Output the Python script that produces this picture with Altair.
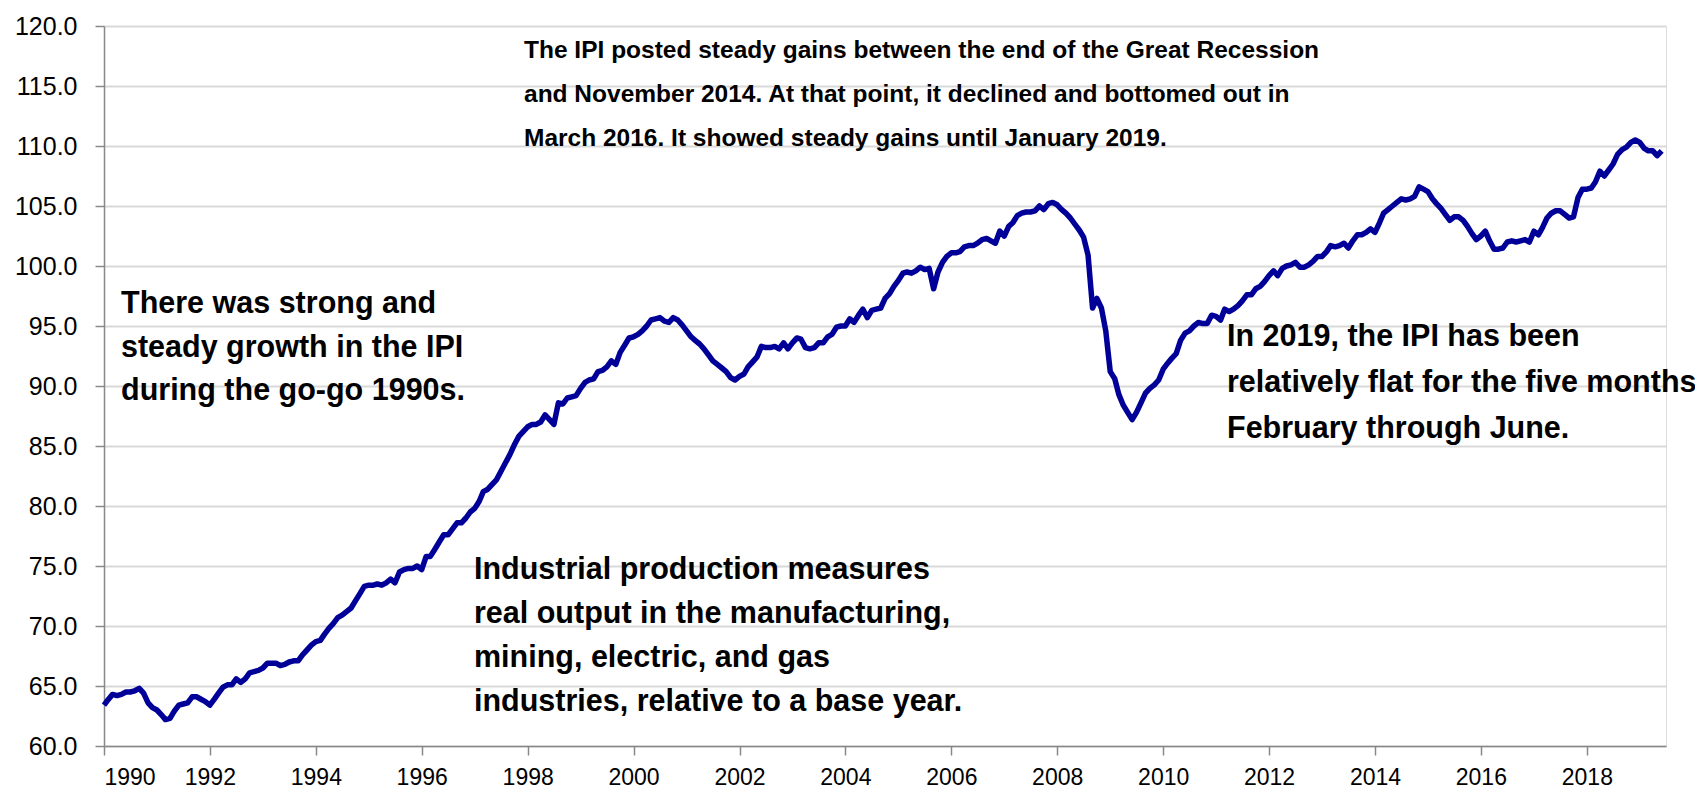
import altair as alt
import pandas as pd

# Industrial Production Index, monthly, Jan 1990 - Jun 2019
ipi_1990 = [63.4, 63.9, 64.3, 64.2, 64.3, 64.5, 64.5, 64.6, 64.8, 64.4, 63.6, 63.2]
ipi_1991 = [63.0, 62.6, 62.2, 62.3, 62.9, 63.4, 63.5, 63.6, 64.1, 64.1, 63.9, 63.7]
ipi_1992 = [63.4, 63.9, 64.4, 64.9, 65.1, 65.1, 65.6, 65.3, 65.6, 66.1, 66.2, 66.3]
ipi_1993 = [66.5, 66.9, 66.9, 66.9, 66.7, 66.8, 67.0, 67.1, 67.1, 67.6, 68.0, 68.4]
ipi_1994 = [68.7, 68.8, 69.3, 69.8, 70.2, 70.7, 70.9, 71.2, 71.5, 72.1, 72.7, 73.3]
ipi_1995 = [73.4, 73.4, 73.5, 73.4, 73.6, 73.9, 73.6, 74.5, 74.7, 74.8, 74.8, 75.0]
ipi_1996 = [74.7, 75.8, 75.8, 76.4, 77.0, 77.6, 77.6, 78.1, 78.6, 78.6, 79.0, 79.5]
ipi_1997 = [79.8, 80.4, 81.2, 81.4, 81.8, 82.2, 82.9, 83.6, 84.3, 85.1, 85.8, 86.2]
ipi_1998 = [86.6, 86.8, 86.8, 87.0, 87.6, 87.2, 86.8, 88.6, 88.5, 89.0, 89.1, 89.2]
ipi_1999 = [89.8, 90.3, 90.5, 90.6, 91.2, 91.3, 91.6, 92.1, 91.8, 92.8, 93.4, 94.0]
ipi_2000 = [94.1, 94.3, 94.6, 95.0, 95.5, 95.6, 95.7, 95.4, 95.3, 95.7, 95.5, 95.1]
ipi_2001 = [94.6, 94.1, 93.8, 93.5, 93.1, 92.6, 92.1, 91.8, 91.5, 91.2, 90.7, 90.5]
ipi_2002 = [90.8, 91.0, 91.6, 92.0, 92.4, 93.3, 93.2, 93.2, 93.3, 93.1, 93.6, 93.1]
ipi_2003 = [93.6, 94.0, 93.9, 93.2, 93.1, 93.2, 93.6, 93.6, 94.1, 94.3, 94.9, 95.0]
ipi_2004 = [95.0, 95.6, 95.3, 95.9, 96.4, 95.7, 96.3, 96.4, 96.5, 97.3, 97.7, 98.3]
ipi_2005 = [98.8, 99.4, 99.5, 99.4, 99.6, 99.9, 99.7, 99.8, 98.1, 99.5, 100.3, 100.8]
ipi_2006 = [101.1, 101.1, 101.2, 101.6, 101.7, 101.7, 101.9, 102.2, 102.3, 102.1, 101.9, 102.9]
ipi_2007 = [102.5, 103.3, 103.6, 104.2, 104.4, 104.5, 104.5, 104.6, 105.0, 104.7, 105.2, 105.3]
ipi_2008 = [105.1, 104.7, 104.4, 104.0, 103.5, 103.0, 102.4, 100.9, 96.5, 97.3, 96.5, 94.6]
ipi_2009 = [91.2, 90.6, 89.3, 88.4, 87.8, 87.2, 87.8, 88.6, 89.4, 89.8, 90.1, 90.5]
ipi_2010 = [91.4, 91.9, 92.3, 92.7, 93.8, 94.4, 94.6, 95.0, 95.3, 95.2, 95.2, 95.9]
ipi_2011 = [95.8, 95.5, 96.4, 96.2, 96.4, 96.7, 97.1, 97.6, 97.6, 98.1, 98.3, 98.7]
ipi_2012 = [99.2, 99.6, 99.2, 99.8, 100.0, 100.1, 100.3, 99.9, 99.9, 100.1, 100.4, 100.8]
ipi_2013 = [100.8, 101.2, 101.7, 101.6, 101.7, 101.9, 101.5, 102.1, 102.6, 102.6, 102.8, 103.1]
ipi_2014 = [102.8, 103.6, 104.4, 104.7, 105.0, 105.3, 105.6, 105.5, 105.6, 105.8, 106.6, 106.4]
ipi_2015 = [106.2, 105.6, 105.2, 104.8, 104.3, 103.8, 104.1, 104.1, 103.8, 103.3, 102.7, 102.2]
ipi_2016 = [102.5, 102.9, 102.1, 101.4, 101.4, 101.5, 102.0, 102.1, 102.0, 102.1, 102.2, 102.0]
ipi_2017 = [102.9, 102.6, 103.2, 104.0, 104.4, 104.6, 104.6, 104.3, 104.0, 104.1, 105.7, 106.4]
ipi_2018 = [106.4, 106.5, 107.0, 107.9, 107.5, 108.0, 108.5, 109.3, 109.7, 109.9, 110.3, 110.5]
ipi_2019 = [110.3, 109.8, 109.6, 109.6, 109.2, 109.6]

years = [ipi_1990, ipi_1991, ipi_1992, ipi_1993, ipi_1994, ipi_1995, ipi_1996,
         ipi_1997, ipi_1998, ipi_1999, ipi_2000, ipi_2001, ipi_2002, ipi_2003,
         ipi_2004, ipi_2005, ipi_2006, ipi_2007, ipi_2008, ipi_2009, ipi_2010,
         ipi_2011, ipi_2012, ipi_2013, ipi_2014, ipi_2015, ipi_2016, ipi_2017,
         ipi_2018, ipi_2019]
values = [v for yr in years for v in yr]
dates = pd.date_range("1990-01-01", periods=len(values), freq="MS")
df = pd.DataFrame({"date": dates.strftime("%Y-%m-%d"), "ipi": values})

y_ticks = [60, 65, 70, 75, 80, 85, 90, 95, 100, 105, 110, 115, 120]
x_tick_years = list(range(1990, 2019, 2))

# annotation text blocks
note_top = ["The IPI posted steady gains between the end of the Great Recession",
            "and November 2014. At that point, it declined and bottomed out in",
            "March 2016. It showed steady gains until January 2019."]
note_left = ["There was strong and",
             "steady growth in the IPI",
             "during the go-go 1990s."]
note_mid = ["Industrial production measures",
            "real output in the manufacturing,",
            "mining, electric, and gas",
            "industries, relative to a base year."]
note_right = ["In 2019, the IPI has been",
              "relatively flat for the five months",
              "February through June."]

rows = []
for lines, x0, y0, step, grp in [(note_top, 420, 25, 44, "top"),
                                 (note_left, 17, 278, 43.5, "body"),
                                 (note_mid, 370, 544, 44, "body"),
                                 (note_right, 1123, 311, 46, "body")]:
    for i, t in enumerate(lines):
        rows.append({"px": x0, "py": y0 + i * step, "txt": t, "grp": grp})
notes = pd.DataFrame(rows)

FONT = "Liberation Sans"

line = alt.Chart(df).mark_line(color="#000099", strokeWidth=5.5, strokeJoin="round").encode(
    x=alt.X("date:T",
            scale=alt.Scale(domain=[alt.DateTime(year=1990, month=1, date=1),
                                    alt.DateTime(year=2019, month=7, date=1)]),
            axis=alt.Axis(values=[alt.DateTime(year=y, month=1, date=1) for y in x_tick_years],
                          format="%Y", title=None, grid=False, labelFont=FONT,
                          labelFontSize=23, labelColor="black", labelPadding=11,
                          tickSize=9, tickColor="#888888", tickWidth=1.5,
                          domainColor="#888888", domainWidth=1.5, labelOverlap=False)),
    y=alt.Y("ipi:Q",
            scale=alt.Scale(domain=[60, 120], nice=False, zero=False),
            axis=alt.Axis(values=y_ticks, format=".1f", title=None, labelFont=FONT,
                          labelFontSize=25, labelColor="black", labelPadding=18,
                          tickSize=9, tickColor="#888888", tickWidth=1.5,
                          domainColor="#888888", domainWidth=1.5,
                          gridColor="#d9d9d9", gridWidth=2)),
)

text_body = alt.Chart(notes).transform_filter(alt.datum.grp == "body").mark_text(
    align="left", baseline="middle", font=FONT,
    fontWeight="bold", fontSize=30.5, color="black").encode(
    x=alt.X("px:Q", scale=None),
    y=alt.Y("py:Q", scale=None),
    text="txt:N",
)

text_top = alt.Chart(notes).transform_filter(alt.datum.grp == "top").mark_text(
    align="left", baseline="middle", font=FONT,
    fontWeight="bold", fontSize=24.5, color="black").encode(
    x=alt.X("px:Q", scale=None),
    y=alt.Y("py:Q", scale=None),
    text="txt:N",
)

chart = alt.layer(line, text_body, text_top).properties(
    width=1562, height=720,
    autosize=alt.AutoSizeParams(type="none"),
    padding={"left": 96, "top": 18, "right": 29, "bottom": 50},
).configure_view(stroke=None).configure(background="white")

chart.save("out.html", embed_options={"renderer": "svg", "actions": False})
